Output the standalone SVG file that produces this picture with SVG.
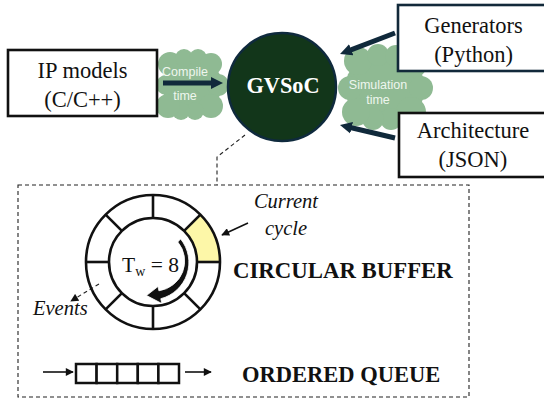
<svg xmlns="http://www.w3.org/2000/svg" width="544" height="399" viewBox="0 0 544 399">
<style>
.serif{font-family:'Liberation Serif','Times New Roman','DejaVu Serif',serif;fill:#111}
.box{fill:#fff;stroke-width:2.6}
.cloud{fill:#8fba93}
.ctext{font-family:'Liberation Sans',Arial,sans-serif;font-size:12.5px;fill:#eef6ee;text-anchor:middle}
.thick{stroke:#10293b;stroke-width:5;fill:none}
.thin{stroke:#111;stroke-width:1.6;fill:none}
.dash{stroke:#222;stroke-width:1.1;fill:none;stroke-dasharray:4 3}
.ring{fill:none;stroke:#111;stroke-width:2.6}
</style>
<defs>
<marker id="navyHead" viewBox="0 0 10 10" refX="2" refY="5" markerWidth="12" markerHeight="13" markerUnits="userSpaceOnUse" orient="auto"><path d="M0,0 L10,5 L0,10 z" fill="#10293b"/></marker>
<marker id="blackHead" viewBox="0 0 10 10" refX="9" refY="5" markerWidth="9" markerHeight="8" markerUnits="userSpaceOnUse" orient="auto"><path d="M0,0 L10,5 L0,10 z" fill="#111"/></marker>
</defs>

<g id="compile-cloud">
<g class="cloud">
<ellipse cx="192" cy="85" rx="30" ry="28"/>
<circle cx="170" cy="64" r="12"/><circle cx="184" cy="58" r="9"/><circle cx="198" cy="58" r="9"/><circle cx="211" cy="64" r="11"/>
<circle cx="218" cy="85" r="11"/><circle cx="211" cy="106" r="12"/><circle cx="195" cy="111" r="9"/><circle cx="181" cy="111" r="9"/>
<circle cx="168" cy="106" r="12"/><circle cx="166" cy="85" r="10"/>
</g>
<text class="ctext" x="185" y="76">Compile</text>
<text class="ctext" x="185" y="100">time</text>
</g>

<g id="simulation-cloud">
<g class="cloud">
<ellipse cx="385" cy="88" rx="40" ry="36"/>
<circle cx="358" cy="61" r="14"/><circle cx="378" cy="55" r="11"/><circle cx="396" cy="56" r="11"/><circle cx="413" cy="64" r="14"/>
<circle cx="421" cy="88" r="12"/><circle cx="411" cy="112" r="15"/><circle cx="391" cy="119" r="11"/><circle cx="373" cy="119" r="11"/>
<circle cx="356" cy="112" r="14"/><circle cx="350" cy="88" r="12"/>
</g>
<text class="ctext" x="378" y="89">Simulation</text>
<text class="ctext" x="378" y="104">time</text>
</g>

<g id="gvsoc">
<circle cx="282" cy="87" r="54" fill="#12361a" stroke="#0f2a3d" stroke-width="2.5"/>
<text class="serif" x="283" y="93" font-weight="bold" font-size="22.3" style="fill:#fff" text-anchor="middle">GVSoC</text>
</g>

<g id="ip-models">
<rect class="box" x="8" y="50" width="149" height="66" stroke="#111"/>
<text class="serif" font-size="22.5" text-anchor="middle"><tspan x="82.5" y="78">IP models</tspan><tspan x="82.5" y="107">(C/C++)</tspan></text>
</g>

<g id="generators">
<rect class="box" x="398" y="5" width="160" height="66" stroke="#12293a" stroke-width="3"/>
<text class="serif" font-size="22.5" text-anchor="middle"><tspan x="473.5" y="33">Generators</tspan><tspan x="473.5" y="62">(Python)</tspan></text>
</g>

<g id="architecture">
<rect class="box" x="399" y="113" width="160" height="64" stroke="#111" stroke-width="3"/>
<text class="serif" font-size="22.5" text-anchor="middle"><tspan x="473" y="138">Architecture</tspan><tspan x="473" y="167">(JSON)</tspan></text>
</g>

<g id="connectors">
<line class="thick" x1="163" y1="83" x2="213.4" y2="83" marker-end="url(#navyHead)"/>
<line class="thick" x1="395" y1="33" x2="349" y2="50.6" marker-end="url(#navyHead)"/>
<line class="thick" x1="395" y1="138" x2="349.3" y2="127.2" marker-end="url(#navyHead)"/>
<polyline class="dash" points="245,135 217,157 217,185"/>
<line class="thin" x1="248" y1="223" x2="222" y2="235" marker-end="url(#blackHead)"/>
<line class="dash" x1="99" y1="284" x2="71" y2="301" stroke-width="1.5" marker-end="url(#blackHead)"/>
<line class="thin" x1="43" y1="372" x2="73" y2="372" marker-end="url(#blackHead)"/>
<line class="thin" x1="185" y1="372" x2="211" y2="372" marker-end="url(#blackHead)"/>
</g>

<g id="detail-box">
<rect x="18" y="185" width="451" height="212" fill="none" stroke="#222" stroke-width="1.1" stroke-dasharray="4 3"/>
</g>

<g id="circular-buffer">
<path d="M200.4,214.6 A67,67 0 0 1 220,262 L197,262 A44,44 0 0 0 184.1,230.9 Z" fill="#fdf7a8"/>
<circle class="ring" cx="153" cy="262" r="67"/>
<circle class="ring" cx="153" cy="262" r="44"/>
<g class="ring">
<line x1="197" y1="262" x2="220" y2="262"/>
<line x1="109" y1="262" x2="86" y2="262"/>
<line x1="153" y1="218" x2="153" y2="195"/>
<line x1="153" y1="306" x2="153" y2="329"/>
<line x1="184.1" y1="230.9" x2="200.4" y2="214.6"/>
<line x1="121.9" y1="230.9" x2="105.6" y2="214.6"/>
<line x1="184.1" y1="293.1" x2="200.4" y2="309.4"/>
<line x1="121.9" y1="293.1" x2="105.6" y2="309.4"/>
</g>
<path d="M180.6,238.9 A37.5,37.5 0 0 1 160.8,298.7 L161.8,303.5 L146.5,295.5 L158,286.5 L158.9,290.8 A30,30 0 0 0 177.8,242 Z" fill="#111" stroke="#fff" stroke-width="0.8"/>
<text class="serif" x="122" y="272" font-size="21.5">T<tspan font-size="14" dy="4">w</tspan><tspan dy="-4"> = 8</tspan></text>
</g>

<g id="labels">
<text class="serif" font-size="20.5" font-style="italic" text-anchor="middle"><tspan x="286" y="208">Current</tspan><tspan x="286" y="235">cycle</tspan></text>
<text class="serif" x="33" y="315" font-size="20.5" font-style="italic">Events</text>
<text class="serif" x="233" y="278" font-size="22.8" font-weight="bold">CIRCULAR BUFFER</text>
<text class="serif" x="242" y="382" font-size="22.5" font-weight="bold">ORDERED QUEUE</text>
</g>

<g id="ordered-queue" fill="#fff" stroke="#111" stroke-width="2.5">
<rect x="76" y="364" width="20.6" height="19"/>
<rect x="96.6" y="364" width="20.6" height="19"/>
<rect x="117.2" y="364" width="20.6" height="19"/>
<rect x="137.8" y="364" width="20.6" height="19"/>
<rect x="158.4" y="364" width="20.6" height="19"/>
</g>
</svg>
